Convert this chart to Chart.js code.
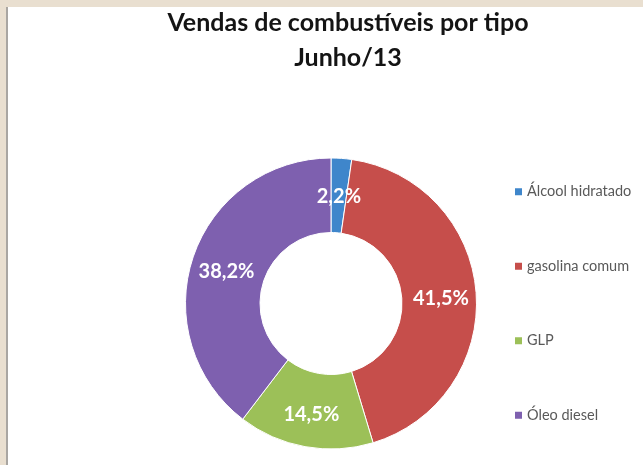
<!DOCTYPE html>
<html>
<head>
<meta charset="utf-8">
<script src="https://cdn.jsdelivr.net/npm/chart.js@4.4.0/dist/chart.umd.min.js"></script>
<style>
  html, body { margin: 0; padding: 0; }
  body {
    width: 643px; height: 465px; overflow: hidden; position: relative;
    background: #e9dfd0;
  }
  #frame {
    position: absolute; left: 6px; top: 7px; width: 637px; height: 458px;
    border-left: 2px solid #a9a6a2; background: #ffffff;
  }
  #wrap { position: absolute; left: 0; top: 0; width: 635px; height: 458px; }
</style>
</head>
<body>
<div id="frame"><div id="wrap"><canvas id="c" width="635" height="458"></canvas></div></div>
<script>
// ---- data ----
const categories = ['Álcool hidratado', 'gasolina comum', 'GLP', 'Óleo diesel'];
const shares = [2.2, 41.5, 14.5, 38.2];
const titleLines = ['Vendas de combustíveis por tipo', 'Junho/13'];
const sliceColors = ['#3F86CB', '#C64E4B', '#9CC058', '#7E60AF'];

const fmtPct = v => v.toFixed(1).replace('.', ',') + '%';

const titlePlugin = {
  id: 'excelTitle',
  afterDraw(chart) {
    const ctx = chart.ctx;
    ctx.save();
    ctx.fillStyle = '#141414';
    ctx.font = 'bold 25px Lato';
    ctx.textAlign = 'center';
    ctx.textBaseline = 'alphabetic';
    const cx = 340;
    titleLines.forEach((t, i) => ctx.fillText(t, cx, 23.5 + i * 35));
    ctx.restore();
  }
};

const sliceLabels = {
  id: 'sliceLabels',
  afterDatasetsDraw(chart) {
    const ctx = chart.ctx;
    const meta = chart.getDatasetMeta(0);
    const data = chart.data.datasets[0].data;
    ctx.save();
    ctx.fillStyle = '#ffffff';
    ctx.font = 'bold 20px Lato';
    ctx.textAlign = 'center';
    ctx.textBaseline = 'middle';
    meta.data.forEach((arc, i) => {
      const p = arc.getProps(['x', 'y', 'startAngle', 'endAngle', 'innerRadius', 'outerRadius'], true);
      const mid = (p.startAngle + p.endAngle) / 2;
      const r = (p.innerRadius + p.outerRadius) / 2 + 2;
      ctx.fillText(fmtPct(data[i]), p.x + Math.cos(mid) * r, p.y + Math.sin(mid) * r + 3);
    });
    ctx.restore();
  }
};

const sideLegend = {
  id: 'sideLegend',
  afterDraw(chart) {
    const ctx = chart.ctx;
    const area = chart.chartArea;
    const cy = (area.top + area.bottom) / 2;
    const colors = chart.data.datasets[0].backgroundColor;
    ctx.save();
    ctx.font = '14.5px Lato';
    ctx.textAlign = 'left';
    ctx.textBaseline = 'middle';
    chart.data.labels.forEach((lab, i) => {
      const y = cy + (i - 1.5) * 74.5;
      ctx.fillStyle = colors[i];
      ctx.fillRect(507, y - 3.5, 7, 7);
      ctx.fillStyle = '#595959';
      ctx.fillText(lab, 519, y);
    });
    ctx.restore();
  }
};

new Chart(document.getElementById('c'), {
  type: 'doughnut',
  data: {
    labels: categories,
    datasets: [{
      data: shares,
      backgroundColor: sliceColors,
      borderColor: '#ffffff',
      borderWidth: 1,
      hoverOffset: 0,
      radius: 145.5,
      cutout: '48.8%'
    }]
  },
  options: {
    responsive: false,
    animation: false,
    layout: { padding: { left: 165, right: 154, top: 140, bottom: 5 } },
    plugins: {
      legend: { display: false },
      title: { display: false },
      tooltip: { enabled: false }
    }
  },
  plugins: [titlePlugin, sliceLabels, sideLegend]
});
</script>
</body>
</html>
